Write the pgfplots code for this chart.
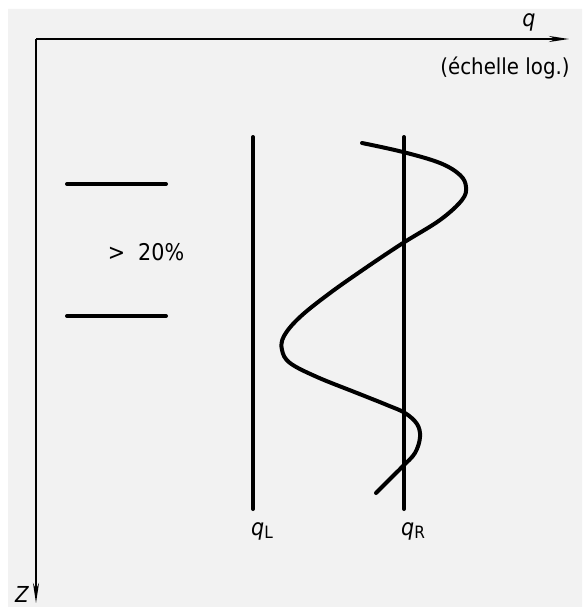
\documentclass[border=0pt]{standalone}
\usepackage{pgfplots}
\pgfplotsset{compat=1.18}
\usetikzlibrary{arrows.meta}
\usepackage{fontspec}
\setmainfont{DejaVu Sans Condensed}
\definecolor{bg}{HTML}{F2F2F2}
\begin{document}
\begin{tikzpicture}
\begin{axis}[
  scale only axis, width=582pt, height=607pt,
  xmin=0, xmax=582, ymin=0, ymax=607, y dir=reverse,
  hide axis, clip=true,
]
% page and background
\addplot[fill=white, draw=none] coordinates {(0,0) (582,0) (582,607) (0,607) (0,0)};
\addplot[fill=bg, draw=none] coordinates {(8,9) (582,9) (582,607) (8,607) (8,9)};
% axes
\addplot[black, line width=2.2pt, -{Stealth[length=20pt,width=6pt]}] coordinates {(36,39) (569,39)};
\addplot[black, line width=2.2pt, -{Stealth[length=20pt,width=6pt]}] coordinates {(36,39) (36,603)};
% horizontal marks
\addplot[black, line width=4pt, line cap=round] coordinates {(67,184) (166,184)};
\addplot[black, line width=4pt, line cap=round] coordinates {(67,316) (166,316)};
% vertical lines
\addplot[black, line width=4pt, line cap=round] coordinates {(253,137) (253,509)};
\addplot[black, line width=4pt, line cap=round] coordinates {(404,137) (404,509)};
% curve
\addplot[black, line width=4pt, smooth, tension=0.6, line cap=round] coordinates {
(362,143) (403,152) (440,163) (460,175) (466,187) (462,200) (440,220)
(403,243) (367,267) (330,293) (300,317) (284,336) (282,350) (290,363)
(317,377) (357,393) (387,405) (405,413) (417,424) (420,437) (415,453)
(403,466) (390,479) (376,493)};
% labels
\node[inner sep=0pt, anchor=center, font=\fontsize{23}{26}\selectfont\itshape] at (axis cs:529,22) {q};
\node[inner sep=0pt, anchor=center, font=\fontsize{22}{26}\selectfont] at (axis cs:505,68) {(échelle log.)};
\node[inner sep=0pt, anchor=center, font=\fontsize{23}{26}\selectfont] at (axis cs:146,252) {>\ \ 20\%};
\node[inner sep=0pt, anchor=center, font=\fontsize{23}{26}\selectfont] at (axis cs:262,531) {\textit{q}\raisebox{-3pt}{\fontsize{17}{18}\selectfont L}};
\node[inner sep=0pt, anchor=center, font=\fontsize{23}{26}\selectfont] at (axis cs:413,531) {\textit{q}\raisebox{-3pt}{\fontsize{17}{18}\selectfont R}};
\node[inner sep=0pt, anchor=base, font=\fontsize{22}{26}\selectfont\itshape] at (axis cs:22,602) {Z};
\end{axis}
\end{tikzpicture}
\end{document}
